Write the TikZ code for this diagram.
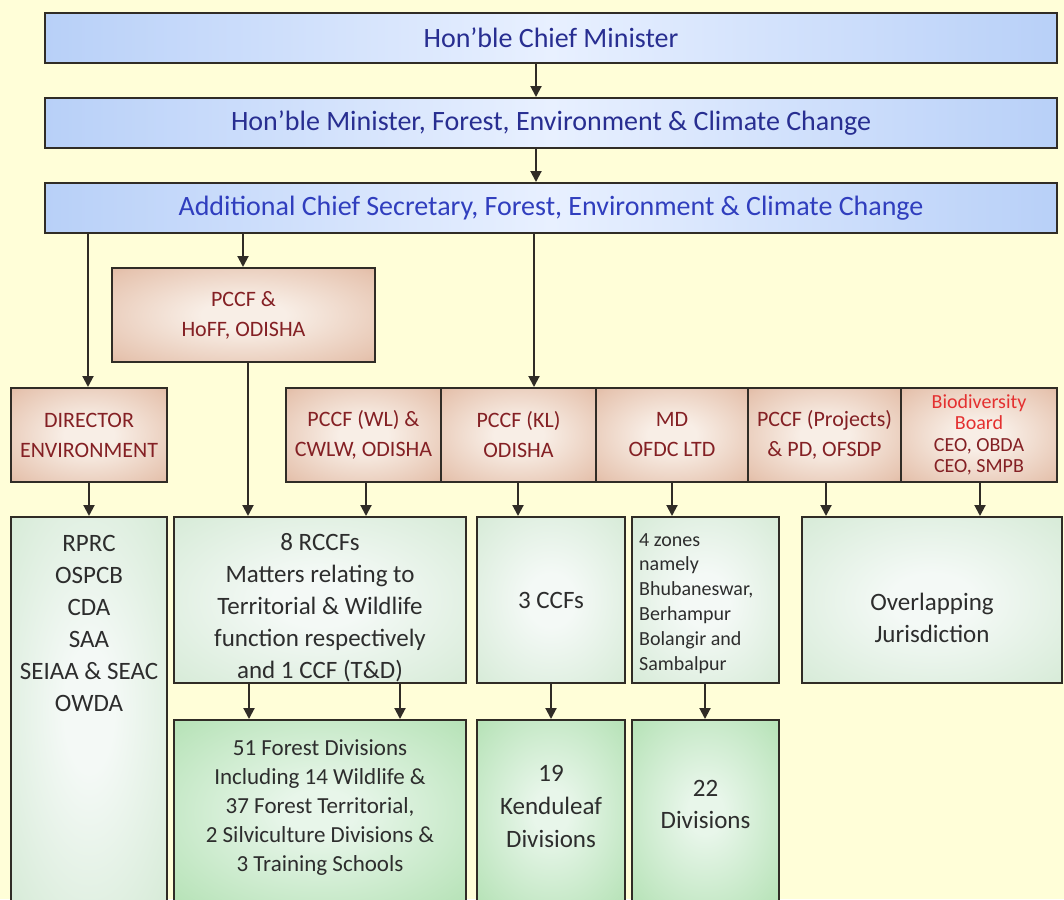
\documentclass[tikz,border=0pt]{standalone}
\usepackage{fontspec}
\setmainfont{Carlito}
\usetikzlibrary{arrows.meta}
\definecolor{bg}{RGB}{255,254,216}
\definecolor{blueout}{RGB}{136,174,236}
\definecolor{bluemid}{RGB}{184,208,248}
\definecolor{bluein}{RGB}{232,240,255}
\definecolor{bluetext}{RGB}{40,46,145}
\definecolor{acstext}{RGB}{48,62,190}
\definecolor{brownout}{RGB}{204,144,114}
\definecolor{brownmid}{RGB}{230,196,176}
\definecolor{brownin}{RGB}{248,238,230}
\definecolor{browntext}{RGB}{132,32,36}
\definecolor{redtext}{RGB}{228,48,48}
\definecolor{greenout}{RGB}{194,225,194}
\definecolor{greenin}{RGB}{244,249,246}
\definecolor{greentwoout}{RGB}{148,213,148}
\definecolor{greentwoin}{RGB}{232,246,234}
\definecolor{gtext}{RGB}{45,45,45}
\definecolor{edge}{RGB}{48,44,38}
\pgfdeclarehorizontalshading{bluesh}{100bp}{color(0bp)=(blueout); color(25bp)=(bluemid); color(50bp)=(bluein); color(75bp)=(bluemid); color(100bp)=(blueout)}
\pgfdeclareradialshading{brownsh}{\pgfpoint{0bp}{0bp}}{color(0bp)=(brownin); color(8bp)=(brownin); color(32bp)=(brownmid); color(52bp)=(brownout); color(80bp)=(brownout)}
\pgfdeclareradialshading{greensh}{\pgfpoint{0bp}{0bp}}{color(0bp)=(greenin); color(8bp)=(greenin); color(55bp)=(greenout); color(80bp)=(greenout)}
\pgfdeclareradialshading{greentwosh}{\pgfpoint{0bp}{0bp}}{color(0bp)=(greentwoin); color(6bp)=(greentwoin); color(55bp)=(greentwoout); color(80bp)=(greentwoout)}
\tikzset{
  box/.style={draw=edge, line width=2pt, inner sep=0pt, anchor=center, align=center},
  bluebox/.style={box, shading=bluesh, text=bluetext,
    font=\fontsize{28}{32}\selectfont, minimum width=1012pt, minimum height=50pt},
  brownbox/.style={box, shading=brownsh, text=browntext,
    font=\fontsize{22}{30}\selectfont, minimum height=94pt},
  greenbox/.style={box, shading=greensh, text=gtext,
    font=\fontsize{25}{32}\selectfont},
  greentwobox/.style={box, shading=greentwosh},
  txt/.style={inner sep=0pt, align=center, text=gtext, font=\fontsize{25}{32}\selectfont},
  arr/.style={draw=edge, line width=2pt, -{Triangle[length=11pt,width=11pt]}},
}
\begin{document}
\begin{tikzpicture}[x=1pt,y=-1pt]
\useasboundingbox (0,0) rectangle (1064,899);
\fill[bg] (0,0) rectangle (1064,899);

% top chain
\node[bluebox] (cm) at (551,38) {Hon'ble Chief Minister};
\node[bluebox] (min) at (551,123) {Hon'ble Minister, Forest, Environment \& Climate Change};
\node[bluebox, text=acstext] (acs) at (551,208) {Additional Chief Secretary, Forest, Environment \& Climate Change};

% brown boxes
\node[brownbox, minimum width=263pt] (hoff) at (243.5,315) {PCCF \&\\HoFF, ODISHA};
\node[brownbox, minimum width=156pt] (dir) at (89,435) {DIRECTOR\\ENVIRONMENT};
\node[brownbox, minimum width=155pt] (wl) at (363.5,435) {PCCF (WL) \&\\CWLW, ODISHA};
\node[brownbox, minimum width=155pt] (kl) at (518.5,435) {PCCF (KL)\\ODISHA};
\node[brownbox, minimum width=152pt] (md) at (672,435) {MD\\OFDC LTD};
\node[brownbox, minimum width=153pt] (proj) at (824.5,435) {PCCF (Projects)\\\& PD, OFSDP};
\node[brownbox, minimum width=156pt, font=\fontsize{20}{21.5}\selectfont] (bio) at (979,435)
  {{\color{redtext}Biodiversity}\\{\color{redtext}Board}\\CEO, OBDA\\CEO, SMPB};

% green row 1
\node[greenbox, minimum width=156pt, minimum height=386pt] (rprc) at (89,710) {};
\node[txt, anchor=north] (rprct) at (89,535)
  {RPRC\\OSPCB\\CDA\\SAA\\SEIAA \& SEAC\\OWDA};
\node[greenbox, minimum width=292pt, minimum height=166pt] (rccf) at (320,600) {};
\node[txt] (rccft) at (320,608)
  {8 RCCFs\\Matters relating to\\Territorial \& Wildlife\\function respectively\\and 1 CCF (T\&D)};
\node[greenbox, minimum width=148pt, minimum height=166pt] (ccf) at (551,600) {3 CCFs};
\node[greenbox, minimum width=147pt, minimum height=166pt] (zones) at (705.5,600) {};
\node[txt, anchor=north west, align=left, font=\fontsize{20}{24.8}\selectfont] (zonest) at (639,533)
  {4 zones\\namely\\Bhubaneswar,\\Berhampur\\Bolangir and\\Sambalpur};
\node[greenbox, minimum width=260pt, minimum height=166pt] (over) at (932,600) {};
\node[txt] (overt) at (932,618) {Overlapping\\Jurisdiction};

% green row 2
\node[greentwobox, minimum width=292pt, minimum height=184pt] (fd) at (320,812) {};
\node[txt, font=\fontsize{23}{29}\selectfont] (fdt) at (320,808)
  {51 Forest Divisions\\Including 14 Wildlife \&\\37 Forest Territorial,\\2 Silviculture Divisions \&\\3 Training Schools};
\node[greentwobox, minimum width=148pt, minimum height=184pt] (kend) at (551,812) {};
\node[txt, font=\fontsize{25}{33}\selectfont] (kendt) at (551,806) {19\\Kenduleaf\\Divisions};
\node[greentwobox, minimum width=147pt, minimum height=184pt] (div) at (705.5,812) {};
\node[txt] (divt) at (705.5,804) {22\\Divisions};

% x positions of connectors
\coordinate (xa) at (536,0);
\coordinate (xdir) at (88,0);
\coordinate (xhoff) at (243,0);
\coordinate (xkl) at (534,0);
\coordinate (xhd) at (248,0);
\coordinate (xwl) at (366,0);
\coordinate (xkl2) at (518,0);
\coordinate (xmd) at (672,0);
\coordinate (xpr) at (826,0);
\coordinate (xbio) at (980,0);
\coordinate (xr1) at (249,0);
\coordinate (xr2) at (400,0);
\coordinate (xc) at (551,0);
\coordinate (xz) at (705,0);

\draw[arr] (cm.south -| xa) -- (min.north -| xa);
\draw[arr] (min.south -| xa) -- (acs.north -| xa);
\draw[arr] (acs.south -| xdir) -- (dir.north -| xdir);
\draw[arr] (acs.south -| xhoff) -- (hoff.north -| xhoff);
\draw[arr] (acs.south -| xkl) -- (kl.north -| xkl);
\draw[arr] (hoff.south -| xhd) -- (rccf.north -| xhd);
\draw[arr] (dir.south) -- (rprc.north);
\draw[arr] (wl.south -| xwl) -- (rccf.north -| xwl);
\draw[arr] (kl.south -| xkl2) -- (ccf.north -| xkl2);
\draw[arr] (md.south -| xmd) -- (zones.north -| xmd);
\draw[arr] (proj.south -| xpr) -- (over.north -| xpr);
\draw[arr] (bio.south -| xbio) -- (over.north -| xbio);
\draw[arr] (rccf.south -| xr1) -- (fd.north -| xr1);
\draw[arr] (rccf.south -| xr2) -- (fd.north -| xr2);
\draw[arr] (ccf.south -| xc) -- (kend.north -| xc);
\draw[arr] (zones.south -| xz) -- (div.north -| xz);
\end{tikzpicture}
\end{document}
